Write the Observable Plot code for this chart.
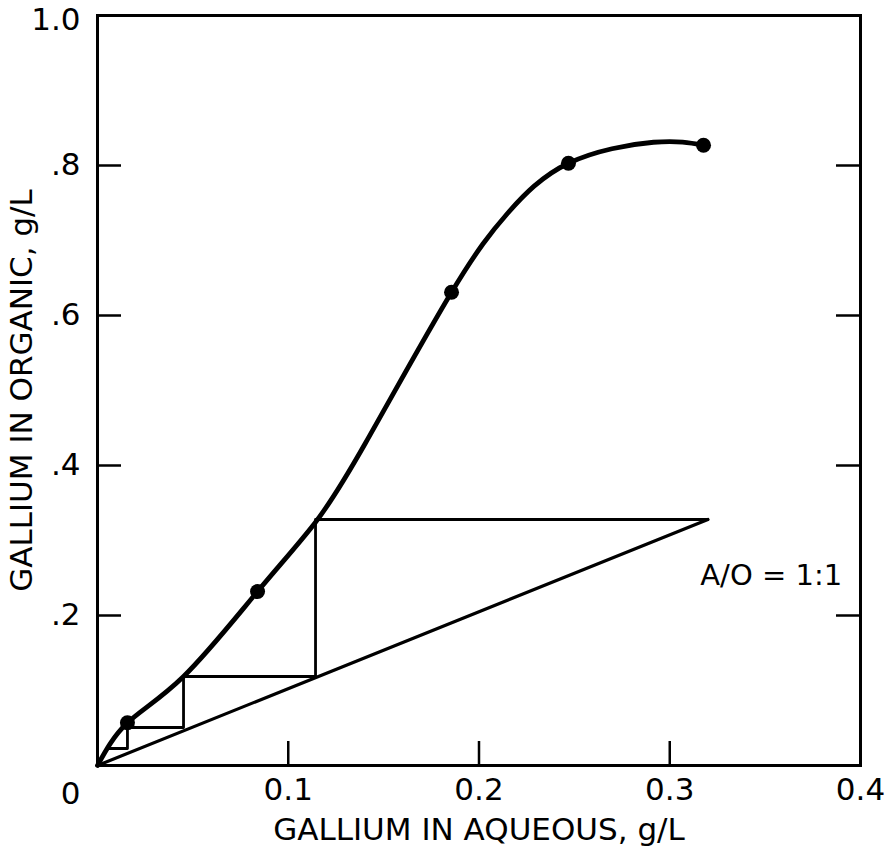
<!DOCTYPE html>
<html>
<head>
<meta charset="utf-8">
<script src="https://cdn.jsdelivr.net/npm/d3@7"></script>
<script src="https://cdn.jsdelivr.net/npm/@observablehq/plot@0.6"></script>
<style>
  html, body { margin: 0; padding: 0; background: #fff; }
  #chart { width: 896px; height: 846px; }
</style>
</head>
<body>
<div id="chart"></div>
<script>
// Measured data points (aqueous g/L, organic g/L)
const pointX = [0.0157, 0.0839, 0.1856, 0.2469, 0.3177];
const pointY = [0.057, 0.232, 0.631, 0.803, 0.827];

// Equilibrium curve as drawn
const curveX = [0, 0.0157, 0.0451, 0.0839, 0.1138, 0.1405, 0.1856, 0.2149, 0.2469, 0.2915, 0.3177];
const curveY = [0, 0.057, 0.1187, 0.232, 0.3227, 0.43, 0.631, 0.736, 0.803, 0.831, 0.827];

// Operating line A/O = 1:1
const opX = [0, 0.32];
const opY = [0, 0.328];

// Stage construction (staircase)
const stepX = [0.32, 0.1143, 0.1143, 0.0451, 0.0451, 0.0157, 0.0157, 0.0052];
const stepY = [0.328, 0.328, 0.1187, 0.1187, 0.0507, 0.0507, 0.0227, 0.0227];

const xTicks = [0.1, 0.2, 0.3, 0.4];
const xTickLabels = ["0.1", "0.2", "0.3", "0.4"];
const yTicks = [0.2, 0.4, 0.6, 0.8];
const yTickLabels = [".2", ".4", ".6", ".8"];
const yTopTick = [1.0];
const yTopLabel = "1.0";
const innerTicks = [0.2, 0.4, 0.6, 0.8];
const innerXTicks = [0.1, 0.2, 0.3];

const xTitle = "GALLIUM IN AQUEOUS, g/L";
const yTitle = "GALLIUM IN ORGANIC, g/L";
const annotation = "A/O = 1:1";
const annX = 0.316, annY = 0.253;

const points = pointX.map((x, i) => ({x, y: pointY[i]}));
const curve = curveX.map((x, i) => ({x, y: curveY[i]}));
const op = opX.map((x, i) => ({x, y: opY[i]}));
const steps = stepX.map((x, i) => ({x, y: stepY[i]}));

const W = 896, H = 846;
const mL = 97, mR = 36, mT = 15, mB = 81;
const frameW = W - mL - mR, frameH = H - mT - mB;
const tickLen = 24;
const FS = 31;

const chart = Plot.plot({
  width: W,
  height: H,
  marginLeft: mL,
  marginRight: mR,
  marginTop: mT,
  marginBottom: mB,
  style: {fontFamily: "'DejaVu Sans', sans-serif", fontSize: FS + "px", color: "black", background: "white"},
  x: {domain: [0, 0.4]},
  y: {domain: [0, 1]},
  marks: [
    Plot.frame({stroke: "black", strokeWidth: 3}),
    Plot.axisX(xTicks, {tickSize: 0, tickPadding: 12, tickFormat: (d) => xTickLabels[xTicks.indexOf(d)], fontSize: FS, label: null}),
    Plot.axisY(yTicks, {tickSize: 0, tickPadding: 17, tickFormat: (d) => yTickLabels[yTicks.indexOf(d)], fontSize: FS, label: null}),
    Plot.text(yTopTick, {x: 0, y: d => d, text: () => yTopLabel, textAnchor: "end", dx: -17, dy: 5, fontSize: FS}),
    Plot.text([0], {x: d => d, y: 0, text: () => "0", dx: -27, dy: 29, fontSize: FS}),
    Plot.ruleX(innerXTicks, {stroke: "black", strokeWidth: 2.5, insetTop: frameH - tickLen}),
    Plot.ruleY(innerTicks, {stroke: "black", strokeWidth: 2.5, insetRight: frameW - tickLen}),
    Plot.ruleY(innerTicks, {stroke: "black", strokeWidth: 2.5, insetLeft: frameW - tickLen}),
    Plot.line(op, {x: "x", y: "y", stroke: "black", strokeWidth: 3.2}),
    Plot.line(steps, {x: "x", y: "y", stroke: "black", strokeWidth: 2.8}),
    Plot.line(curve, {x: "x", y: "y", stroke: "black", strokeWidth: 4.8, curve: "natural"}),
    Plot.dot(points, {x: "x", y: "y", r: 7.5, fill: "black", stroke: "none"}),
    Plot.text([annotation], {x: annX, y: annY, text: d => d, textAnchor: "start", fontSize: 29}),
    Plot.text([xTitle], {frameAnchor: "bottom", lineAnchor: "middle", dy: 65, text: d => d, fontSize: FS}),
    Plot.text([yTitle], {frameAnchor: "left", textAnchor: "middle", lineAnchor: "middle", dx: -75, rotate: -90, text: d => d, fontSize: FS})
  ]
});
document.getElementById("chart").appendChild(chart);
</script>
</body>
</html>
